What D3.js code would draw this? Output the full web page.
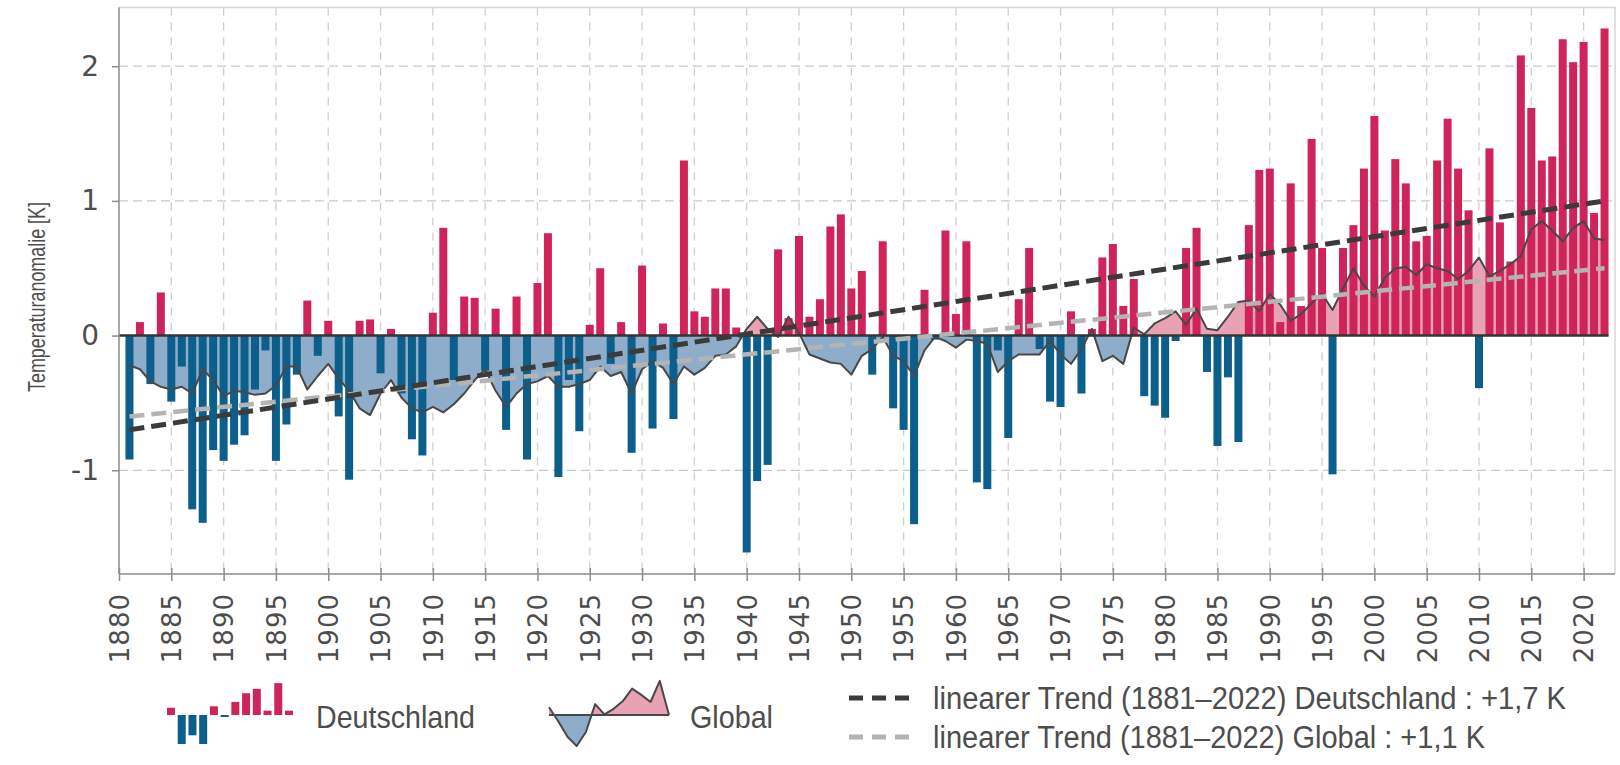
<!DOCTYPE html>
<html>
<head>
<meta charset="utf-8">
<script src="https://cdn.jsdelivr.net/npm/d3@7"></script>
<style>
  body { margin: 0; background: #fff; }
  svg { display: block; }
</style>
</head>
<body>
<div id="chart"></div>
<script>
// Temperature anomalies (K), Germany and global, 1881-2022
const years = d3.range(1881, 2023);

const germany = [
  -0.92, 0.10, -0.36, 0.32, -0.49, -0.23, -1.29, -1.39, -0.85,          // 1881-1889
  -0.93, -0.81, -0.74, -0.40, -0.11, -0.93, -0.66, -0.29, 0.26, -0.15,  // 1890-1899
  0.11, -0.60, -1.07, 0.11, 0.12, -0.28, 0.05, -0.43, -0.77, -0.89,     // 1900-1909
  0.17, 0.80, -0.33, 0.29, 0.28, -0.26, 0.20, -0.70, 0.29, -0.92,       // 1910-1919
  0.39, 0.76, -1.05, -0.33, -0.71, 0.08, 0.50, -0.21, 0.10, -0.87,      // 1920-1929
  0.52, -0.69, 0.09, -0.62, 1.30, 0.18, 0.14, 0.35, 0.35, 0.06,         // 1930-1939
  -1.61, -1.08, -0.96, 0.64, 0.13, 0.74, 0.14, 0.27, 0.81, 0.90,        // 1940-1949
  0.35, 0.48, -0.29, 0.70, -0.54, -0.70, -1.40, 0.34, -0.03, 0.78,      // 1950-1959
  0.16, 0.70, -1.09, -1.14, -0.11, -0.76, 0.27, 0.65, -0.10, -0.49,     // 1960-1969
  -0.53, 0.18, -0.43, 0.05, 0.58, 0.68, 0.22, 0.42, -0.45, -0.52,       // 1970-1979
  -0.61, -0.04, 0.65, 0.80, -0.27, -0.82, -0.31, -0.79, 0.82, 1.23,     // 1980-1989
  1.24, 0.10, 1.13, 0.22, 1.46, 0.65, -1.03, 0.65, 0.82, 1.24,          // 1990-1999
  1.63, 0.78, 1.31, 1.13, 0.70, 0.74, 1.30, 1.61, 1.24, 0.93,           // 2000-2009
  -0.39, 1.39, 0.84, 0.55, 2.08, 1.69, 1.30, 1.33, 2.20, 2.03,          // 2010-2019
  2.18, 0.91, 2.28                                                       // 2020-2022
];

const globalAnom = [
  -0.22, -0.25, -0.34, -0.38, -0.40, -0.38, -0.43, -0.25, -0.33,        // 1881-1889
  -0.45, -0.41, -0.42, -0.44, -0.43, -0.37, -0.23, -0.23, -0.40, -0.30, // 1890-1899
  -0.21, -0.32, -0.41, -0.54, -0.59, -0.43, -0.33, -0.46, -0.54, -0.57, // 1900-1909
  -0.53, -0.57, -0.51, -0.43, -0.33, -0.25, -0.41, -0.53, -0.43, -0.36, // 1910-1919
  -0.34, -0.30, -0.38, -0.38, -0.36, -0.33, -0.23, -0.30, -0.27, -0.43, // 1920-1929
  -0.25, -0.19, -0.24, -0.36, -0.23, -0.29, -0.24, -0.15, -0.14, -0.08, // 1930-1939
  0.05, 0.14, 0.05, -0.01, 0.14, 0.02, -0.14, -0.17, -0.20, -0.21,      // 1940-1949
  -0.29, -0.15, -0.10, -0.01, -0.15, -0.19, -0.30, -0.11, -0.01, -0.04, // 1950-1959
  -0.09, -0.03, -0.04, -0.06, -0.27, -0.19, -0.14, -0.14, -0.14, -0.04, // 1960-1969
  -0.14, -0.21, -0.10, 0.05, -0.19, -0.15, -0.21, 0.06, 0.01, 0.09,     // 1970-1979
  0.13, 0.18, 0.08, 0.20, 0.05, 0.04, 0.14, 0.25, 0.26, 0.18,           // 1980-1989
  0.31, 0.23, 0.11, 0.16, 0.24, 0.31, 0.19, 0.35, 0.50, 0.37,           // 1990-1999
  0.29, 0.43, 0.50, 0.51, 0.45, 0.53, 0.50, 0.48, 0.42, 0.48,           // 2000-2009
  0.58, 0.44, 0.48, 0.53, 0.59, 0.79, 0.85, 0.78, 0.70, 0.80,           // 2010-2019
  0.85, 0.72, 0.71                                                       // 2020-2022
];

// linear trends 1881-2022 (start / end value)
const trendYears = [1881, 2022];
const trendGermany = [-0.70, 1.00];
const trendGlobal = [-0.60, 0.50];

const yTicks = [-1, 0, 1, 2];
const xTicks = d3.range(1880, 2021, 5);

// little sample series drawn as legend symbols
const legendGermany = [0.25, -1.0, -0.7, -1.0, 0.3, -0.06, 0.45, 0.75, 0.9, 0.15, 1.1, 0.15];
const legendGlobal = [0.25, -0.2, -0.7, -1.0, -0.55, 0.35, 0.02, 0.2, 0.45, 0.85, 0.65, 0.42, 1.1, 0.0];
const legendLabels = ["Deutschland", "Global"];
const trendLabels = [
  "linearer Trend (1881\u20132022) Deutschland : +1,7 K",
  "linearer Trend (1881\u20132022) Global : +1,1 K"
];

// colours
const red = "#cf2459", blue = "#0c5f8a";
const areaPos = "#e8a2b3", areaNeg = "#8eadcb";
const lineCol = "#484848";
const trendDark = "#3b3b3b", trendLight = "#b4b4b4";
const textCol = "#4d4d4d";
const narrow = "'Liberation Sans Narrow', 'Liberation Sans', 'DejaVu Sans', sans-serif";

const width = 1620, height = 765;
const margin = { top: 7.6, right: 5, bottom: 191, left: 119 };

const svg = d3.select("#chart").append("svg")
  .attr("width", width)
  .attr("height", height);

const x = d3.scaleLinear().domain([1880, 2023]).range([margin.left, width - margin.right]);
const y = d3.scaleLinear().domain([-1.77, 2.435]).range([height - margin.bottom, margin.top]);

const plotTop = margin.top, plotBottom = height - margin.bottom;
const plotLeft = margin.left, plotRight = width - margin.right;

// frame (top and right)
svg.append("path")
  .attr("d", `M${plotLeft},${plotTop}H${plotRight}V${plotBottom}`)
  .attr("fill", "none")
  .attr("stroke", "#d6d6d6")
  .attr("stroke-width", 1.5);

// grid
svg.append("g").selectAll("line")
  .data(yTicks.filter(d => d !== 0))
  .join("line")
  .attr("x1", plotLeft).attr("x2", plotRight)
  .attr("y1", d => y(d)).attr("y2", d => y(d))
  .attr("stroke", "#c9c9c9")
  .attr("stroke-width", 1.3)
  .attr("stroke-dasharray", "9,5");

svg.append("g").selectAll("line")
  .data(xTicks.filter(d => d > 1880))
  .join("line")
  .attr("x1", d => x(d)).attr("x2", d => x(d))
  .attr("y1", plotTop).attr("y2", plotBottom)
  .attr("stroke", "#cfcfcf")
  .attr("stroke-width", 1.3)
  .attr("stroke-dasharray", "8,7");

// global anomaly as area, split at zero with clip paths
const series = years.map((yr, i) => ({ year: yr, de: germany[i], gl: globalAnom[i] }));

const defs = svg.append("defs");
defs.append("clipPath").attr("id", "clipPos")
  .append("rect")
  .attr("x", plotLeft).attr("y", plotTop)
  .attr("width", plotRight - plotLeft).attr("height", y(0) - plotTop);
defs.append("clipPath").attr("id", "clipNeg")
  .append("rect")
  .attr("x", plotLeft).attr("y", y(0))
  .attr("width", plotRight - plotLeft).attr("height", plotBottom - y(0));

const area = d3.area()
  .x(d => x(d.year))
  .y0(y(0))
  .y1(d => y(d.gl));

svg.append("path").datum(series)
  .attr("d", area)
  .attr("fill", areaPos)
  .attr("clip-path", "url(#clipPos)");
svg.append("path").datum(series)
  .attr("d", area)
  .attr("fill", areaNeg)
  .attr("clip-path", "url(#clipNeg)");

// Germany bars
const barW = 8;
svg.append("g").selectAll("rect")
  .data(series)
  .join("rect")
  .attr("x", d => x(d.year) - barW / 2)
  .attr("width", barW)
  .attr("y", d => y(Math.max(0, d.de)))
  .attr("height", d => Math.abs(y(d.de) - y(0)))
  .attr("fill", d => d.de >= 0 ? red : blue);

// global line
svg.append("path").datum(series)
  .attr("d", d3.line().x(d => x(d.year)).y(d => y(d.gl)))
  .attr("fill", "none")
  .attr("stroke", lineCol)
  .attr("stroke-width", 2)
  .attr("stroke-linejoin", "round");

// zero line
svg.append("line")
  .attr("x1", plotLeft).attr("x2", x(2022) + barW / 2)
  .attr("y1", y(0)).attr("y2", y(0))
  .attr("stroke", "#353535")
  .attr("stroke-width", 2.5);

// trend lines
const trendLine = d3.line().x(d => x(d[0])).y(d => y(d[1]));
svg.append("path")
  .datum(trendYears.map((yr, i) => [yr, trendGlobal[i]]))
  .attr("d", trendLine)
  .attr("stroke", trendLight)
  .attr("stroke-width", 4.5)
  .attr("stroke-dasharray", "15,7")
  .attr("fill", "none");
svg.append("path")
  .datum(trendYears.map((yr, i) => [yr, trendGermany[i]]))
  .attr("d", trendLine)
  .attr("stroke", trendDark)
  .attr("stroke-width", 5)
  .attr("stroke-dasharray", "15,7")
  .attr("fill", "none");

// axes
const yAxis = svg.append("g")
  .attr("transform", `translate(${plotLeft},0)`)
  .call(d3.axisLeft(y).tickValues(yTicks).tickSize(7).tickPadding(13).tickFormat(d => String(d)));
yAxis.select(".domain").attr("stroke", "#8c8c8c").attr("stroke-width", 1.5)
  .attr("d", `M0,${plotTop}V${plotBottom}`);
yAxis.selectAll(".tick line").attr("stroke", "#8c8c8c").attr("stroke-width", 1.5);
yAxis.selectAll("text")
  .attr("fill", textCol)
  .style("font-family", "'DejaVu Sans', sans-serif")
  .style("font-size", "28px");

const xAxis = svg.append("g")
  .attr("transform", `translate(0,${plotBottom})`)
  .call(d3.axisBottom(x).tickValues(xTicks).tickSize(7).tickFormat(d => String(d)));
xAxis.select(".domain").attr("stroke", "#8c8c8c").attr("stroke-width", 1.5)
  .attr("d", `M${plotLeft},0H${plotRight}`);
xAxis.selectAll(".tick line").attr("stroke", "#8c8c8c").attr("stroke-width", 1.5).attr("y1", -6);
xAxis.selectAll("text")
  .attr("transform", "rotate(-90)")
  .attr("text-anchor", "end")
  .attr("x", -19)
  .attr("y", 0)
  .attr("dy", "0.36em")
  .attr("fill", textCol)
  .style("font-family", "'DejaVu Sans', sans-serif")
  .style("font-size", "26px")
  .style("letter-spacing", "1px");

// y axis title
svg.append("text")
  .attr("transform", `translate(45,${297}) rotate(-90)`)
  .attr("x", -95)
  .attr("textLength", 190)
  .attr("lengthAdjust", "spacingAndGlyphs")
  .attr("fill", textCol)
  .style("font-family", narrow)
  .style("font-size", "24px")
  .text("Temperaturanomalie [K]");

// legend: Germany symbol
const lg = svg.append("g");
const lgX = d3.scaleLinear().domain([0, legendGermany.length - 1]).range([171, 289]);
const lgY = d3.scaleLinear().domain([-1, 1]).range([744, 686]);
lg.selectAll("rect")
  .data(legendGermany)
  .join("rect")
  .attr("x", (d, i) => lgX(i) - 4)
  .attr("width", 8)
  .attr("y", d => lgY(Math.max(0, d)))
  .attr("height", d => Math.max(2, Math.abs(lgY(d) - lgY(0))))
  .attr("fill", d => d >= 0 ? red : blue);

// legend: global symbol
const ggX = d3.scaleLinear().domain([0, legendGlobal.length - 1]).range([549, 669]);
const ggY = d3.scaleLinear().domain([-1, 1]).range([746, 684]);
defs.append("clipPath").attr("id", "lgPos").append("rect")
  .attr("x", 540).attr("y", 660).attr("width", 140).attr("height", ggY(0) - 660);
defs.append("clipPath").attr("id", "lgNeg").append("rect")
  .attr("x", 540).attr("y", ggY(0)).attr("width", 140).attr("height", 60);
const gArea = d3.area().x((d, i) => ggX(i)).y0(ggY(0)).y1(d => ggY(d));
svg.append("path").datum(legendGlobal).attr("d", gArea).attr("fill", areaPos).attr("clip-path", "url(#lgPos)");
svg.append("path").datum(legendGlobal).attr("d", gArea).attr("fill", areaNeg).attr("clip-path", "url(#lgNeg)");
svg.append("line")
  .attr("x1", ggX(0)).attr("x2", ggX(legendGlobal.length - 1))
  .attr("y1", ggY(0)).attr("y2", ggY(0))
  .attr("stroke", lineCol).attr("stroke-width", 2);
svg.append("path").datum(legendGlobal)
  .attr("d", d3.line().x((d, i) => ggX(i)).y(d => ggY(d)))
  .attr("fill", "none").attr("stroke", lineCol).attr("stroke-width", 2).attr("stroke-linejoin", "round");

// legend labels
svg.selectAll(".lgLabel")
  .data(legendLabels)
  .join("text")
  .attr("class", "lgLabel")
  .attr("x", (d, i) => [316, 690][i])
  .attr("y", 728)
  .attr("textLength", (d, i) => [159, 83][i])
  .attr("lengthAdjust", "spacingAndGlyphs")
  .attr("fill", textCol)
  .style("font-family", narrow)
  .style("font-size", "32px")
  .text(d => d);

// trend legend
const trendCols = [trendDark, trendLight];
const trendRows = [698, 737];
svg.selectAll(".trSym")
  .data(trendLabels)
  .join("line")
  .attr("class", "trSym")
  .attr("x1", 849).attr("x2", 909)
  .attr("y1", (d, i) => trendRows[i]).attr("y2", (d, i) => trendRows[i])
  .attr("stroke", (d, i) => trendCols[i])
  .attr("stroke-width", 5)
  .attr("stroke-dasharray", "14,9");
svg.selectAll(".trLabel")
  .data(trendLabels)
  .join("text")
  .attr("class", "trLabel")
  .attr("x", 933)
  .attr("y", (d, i) => trendRows[i] + 11)
  .attr("textLength", (d, i) => [633, 552][i])
  .attr("lengthAdjust", "spacingAndGlyphs")
  .attr("fill", textCol)
  .style("font-family", narrow)
  .style("font-size", "31px")
  .text(d => d);
</script>
</body>
</html>
